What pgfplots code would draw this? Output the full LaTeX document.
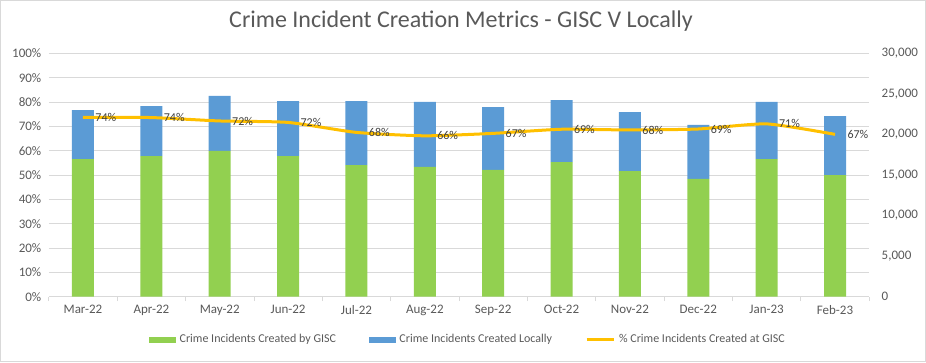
\documentclass[border=0pt]{standalone}
\usepackage{pgfplots}
\usepackage{pgfplotstable}
\pgfplotsset{compat=1.18}
\usepackage{fontspec}
\setmainfont{Carlito}
\definecolor{gisc}{HTML}{92D050}
\definecolor{loc}{HTML}{5B9BD5}
\definecolor{pctc}{HTML}{FFC000}
\definecolor{txt}{HTML}{595959}
\definecolor{lbl}{HTML}{404040}
\definecolor{gridc}{HTML}{D9D9D9}

\pgfplotstableread{
x gisc local pct lab
0 16970 6040 73.7 74
1 17340 6160 73.6 74
2 17960 6780 72.2 72
3 17340 6780 71.6 72
4 16230 7890 67.5 68
5 15990 8010 66.1 66
6 15620 7760 67.1 67
7 16600 7640 68.8 69
8 15490 7270 68.5 68
9 14510 6660 68.9 69
10 16970 7030 71.0 71
11 15000 7270 66.7 67
}\data

\begin{document}
\begin{tikzpicture}[x=1pt,y=1pt]
\path[use as bounding box] (0,0) rectangle (926,362);
\draw[gridc] (0.5,0.5) rectangle (925.5,361.5);
\node[text=txt,font=\fontsize{24}{28}\selectfont] at (461,341) {Crime Incident Creation Metrics - GISC V Locally};

\pgfplotsset{
  base/.style={
    scale only axis, width=820.4pt, height=243.4pt,
    at={(48.8pt,65.3pt)}, anchor=south west,
    xmin=-0.5, xmax=11.5,
    /pgf/number format/assume math mode=true,
    tick label style={font=\fontsize{13}{15}\selectfont, text=txt},
  }
}

% axis 1: grid, left percent labels, x labels
\begin{axis}[base,
  ymin=0, ymax=100, ytick={0,10,...,100},
  yticklabel={\pgfmathprintnumber{\tick}\%},
  ymajorgrids, grid style={gridc, line width=0.8pt},
  axis y line*=left, y axis line style={draw=none},
  axis x line*=bottom, x axis line style={gridc, line width=0.8pt},
  xtick={0,...,11},
  xticklabels={Mar-22,Apr-22,May-22,Jun-22,Jul-22,Aug-22,Sep-22,Oct-22,Nov-22,Dec-22,Jan-23,Feb-23},
  major tick length=0pt,
  minor xtick={-0.5,0.5,...,11.5},
  minor tick length=4.5pt,
  tick align=outside,
  minor tick style={gridc, line width=0.8pt},
  xticklabel style={yshift=-5pt},
  yticklabel style={xshift=-4pt},
]
\end{axis}

% axis 2: stacked bars, right count labels
\begin{axis}[base,
  ymin=0, ymax=30000, ytick={0,5000,...,30000},
  scaled y ticks=false,
  yticklabel style={/pgf/number format/1000 sep={,}, xshift=9pt},
  axis y line*=right, y axis line style={draw=none},
  axis x line=none,
  major tick length=0pt,
  ybar stacked, bar width=22pt,
]
\addplot[fill=gisc, draw=none] table[x=x, y=gisc] {\data};
\addplot[fill=loc, draw=none] table[x=x, y=local] {\data};
\end{axis}

% axis 3: percentage line
\begin{axis}[base,
  ymin=0, ymax=100,
  axis lines=none,
  legend columns=3,
  legend style={at={(0.511,-0.176)}, anchor=center, draw=none, fill=none,
    font=\fontsize{12}{14}\selectfont, text=txt,
    /tikz/every even column/.append style={column sep=31pt},
    inner sep=0pt},
  legend cell align=left,
]
\addlegendimage{legend image code/.code={\fill[gisc] (0pt,-2.5pt) rectangle (26pt,2.5pt);}}
\addlegendentry{\hspace{2pt}Crime Incidents Created by GISC}
\addlegendimage{legend image code/.code={\fill[loc] (0pt,-2.5pt) rectangle (26pt,2.5pt);}}
\addlegendentry{\hspace{2pt}Crime Incidents Created Locally}
\addplot[pctc, line width=3pt, smooth, tension=0.35,
  nodes near coords={\pgfplotspointmeta\%},
  point meta=explicit symbolic,
  every node near coord/.style={anchor=west, xshift=11pt, inner sep=0pt, text=lbl,
    font=\fontsize{12}{14}\selectfont},
  legend image code/.code={\draw[pctc, line width=3pt] (0pt,0pt) -- (27pt,0pt);}
] table[x=x, y=pct, meta=lab] {\data};
\addlegendentry{\hspace{2pt}\% Crime Incidents Created at GISC}
\end{axis}
\end{tikzpicture}
\end{document}
